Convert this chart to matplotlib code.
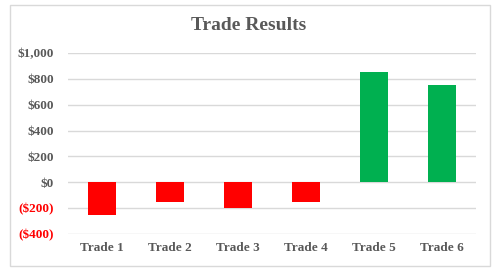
import matplotlib.pyplot as plt
from matplotlib.patches import Rectangle

trades = ['Trade 1', 'Trade 2', 'Trade 3', 'Trade 4', 'Trade 5', 'Trade 6']
results = [-250, -150, -200, -150, 850, 750]
yticks = [-400, -200, 0, 200, 400, 600, 800, 1000]

plt.rcParams['font.family'] = ['Liberation Serif', 'DejaVu Serif']

fig = plt.figure(figsize=(4.98, 2.73), dpi=100)
fig.patches.append(Rectangle((10 / 498, 1 - 266 / 273), 480 / 498, 261 / 273,
                             transform=fig.transFigure, fill=False,
                             edgecolor='#d9d9d9', linewidth=1))
ax = fig.add_axes([68 / 498, 1 - 234 / 273, 408 / 498, 181 / 273])

colors = ['#ff0000' if v < 0 else '#00b050' for v in results]
ax.bar(trades, results, width=0.4, color=colors, zorder=3)

ax.set_ylim(-400, 1000)
ax.set_xlim(-0.5, 5.5)
ax.set_yticks(yticks)
labels = []
for t in yticks:
    if t < 0:
        labels.append('(${:,})'.format(-t))
    else:
        labels.append('${:,}'.format(t))
ax.set_yticklabels(labels)
for lbl, t in zip(ax.get_yticklabels(), yticks):
    lbl.set_color('#ff0000' if t < 0 else '#595959')
    lbl.set_fontweight('bold')
    lbl.set_fontsize(9.5)
for lbl in ax.get_xticklabels():
    lbl.set_color('#595959')
    lbl.set_fontweight('bold')
    lbl.set_fontsize(9.5)

ax.grid(axis='y', color='#d9d9d9', linewidth=1, zorder=0)
for s in ax.spines.values():
    s.set_visible(False)
ax.tick_params(length=0, axis='y', pad=10)
ax.tick_params(length=0, axis='x', pad=6)

fig.text(0.5, 1 - 26 / 273, 'Trade Results', ha='center', va='center',
         fontsize=14, fontweight='bold', color='#595959')

fig.savefig('out.png', dpi=100)
